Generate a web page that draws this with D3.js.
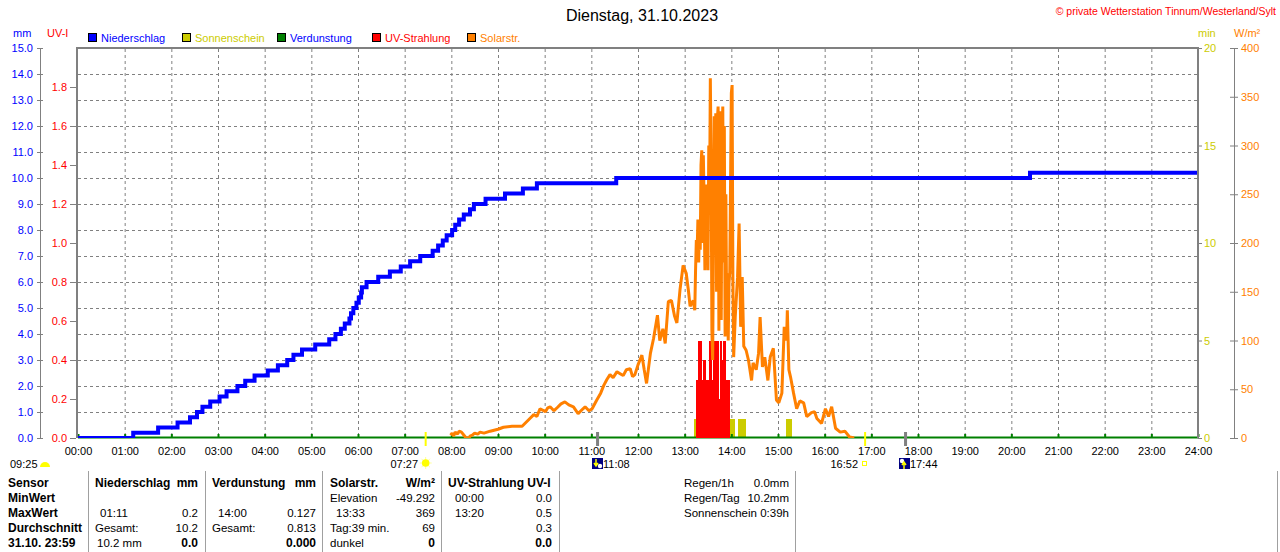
<!DOCTYPE html>
<html>
<head>
<meta charset="utf-8">
<script src="https://cdn.jsdelivr.net/npm/d3@7"></script>
<style>
  body { margin: 0; background: #fff; }
  svg text { font-family: "Liberation Sans", Arial, sans-serif; }
</style>
</head>
<body>
<div id="chart"></div>
<script>
// Niederschlag, cumulated (mm), step changes
const precipTimes = ['00:00','01:11','01:43','02:08','02:24','02:33','02:40','02:50','03:02','03:11','03:25','03:35','03:47','04:04','04:17','04:29','04:37','04:48','05:05','05:23','05:31','05:38','05:43','05:49','05:51','05:54','05:58','06:01','06:04','06:05','06:11','06:26','06:41','06:55','07:07','07:20','07:36','07:43','07:49','07:54','08:01','08:05','08:10','08:16','08:24','08:29','08:44','09:09','09:32','09:50','11:32','20:24'];
const precipValues = [0,0.2,0.4,0.6,0.8,1.0,1.2,1.4,1.6,1.8,2.0,2.2,2.4,2.6,2.8,3.0,3.2,3.4,3.6,3.8,4.0,4.2,4.4,4.6,4.8,5.0,5.2,5.4,5.6,5.8,6.0,6.2,6.4,6.6,6.8,7.0,7.2,7.4,7.6,7.8,8.0,8.2,8.4,8.6,8.8,9.0,9.2,9.4,9.6,9.8,10.0,10.2];

// Solarstrahlung (W/m²)
const solarTimes = ['07:59','08:01','08:03','08:05','08:08','08:10','08:13','08:17','08:19','08:23','08:24','08:27','08:30','08:34','08:37','08:42','08:50','09:00','09:07','09:18','09:31','09:41','09:46','09:50','09:54','10:01','10:04','10:07','10:12','10:16','10:21','10:26','10:31','10:37','10:43','10:48','10:52','10:57','11:01','11:07','11:12','11:16','11:20','11:24','11:28','11:33','11:37','11:41','11:45','11:50','11:53','11:56','12:00','12:05','12:08','12:11','12:16','12:20','12:25','12:28','12:32','12:35','12:39','12:43','12:47','12:50','12:54','12:58','13:02','13:05','13:07','13:11','13:13','13:14','13:15','13:16','13:17','13:18','13:19','13:20','13:21','13:22','13:23','13:24','13:25','13:26','13:27','13:28','13:29','13:30','13:31','13:32','13:33','13:34','13:35','13:36','13:37','13:38','13:39','13:40','13:41','13:42','13:43','13:44','13:45','13:46','13:47','13:48','13:49','13:50','13:51','13:52','13:53','13:54','13:55','13:56','13:57','13:58','14:00','14:01','14:02','14:03','14:05','14:08','14:10','14:12','14:14','14:16','14:19','14:22','14:26','14:28','14:32','14:35','14:37','14:40','14:43','14:47','14:50','14:54','14:58','15:01','15:05','15:08','15:11','15:12','15:14','15:16','15:20','15:24','15:28','15:33','15:37','15:43','15:47','15:50','15:56','16:01','16:05','16:09','16:14','16:20','16:26','16:32','16:38','16:42'];
const solarValues = [3,5,2,6,4,7,6,2,0,0,2,3,5,4,6,5,7,9,11,12,12,20,24,22,30,27,31,32,28,31,35,37,34,32,25,29,32,28,30,39,46,54,60,65,62,68,66,64,70,71,63,65,75,85,70,56,87,102,126,100,112,97,140,141,125,118,152,177,169,150,135,141,131,172,203,190,224,180,215,193,280,295,200,290,244,172,260,180,250,172,300,240,369,285,110,80,200,330,258,333,150,326,340,110,319,335,121,300,340,180,320,104,250,121,169,100,159,170,354,362,165,83,124,165,220,114,165,94,90,80,59,77,70,87,124,73,83,59,83,92,39,36,46,114,100,131,70,63,46,30,38,36,22,26,27,20,15,30,22,32,10,6,7,1,0];

// UV-Strahlung (UV-I), 2-minute samples
const uvTimes = ['13:15','13:17','13:19','13:21','13:23','13:25','13:27','13:29','13:31','13:33','13:35','13:37','13:39','13:41','13:43','13:45','13:47','13:49','13:51','13:53','13:55'];
const uvValues = [0.3,0.5,0.5,0.3,0.4,0.4,0.3,0.3,0.5,0.5,0.3,0.5,0.5,0.5,0.2,0.5,0.4,0.5,0.5,0.3,0.3];

// Sonnenschein (min per minute)
const sunStart = ['13:12','13:35','13:43','13:50','13:58','14:08','15:10'];
const sunEnd   = ['13:15','13:37','13:47','13:53','14:05','14:19','15:18'];

const hourLabels = ['00:00','01:00','02:00','03:00','04:00','05:00','06:00','07:00','08:00','09:00','10:00','11:00','12:00','13:00','14:00','15:00','16:00','17:00','18:00','19:00','20:00','21:00','22:00','23:00','24:00'];
const mmTicks = [0,1,2,3,4,5,6,7,8,9,10,11,12,13,14,15];
const uvTicks = [0,0.2,0.4,0.6,0.8,1.0,1.2,1.4,1.6,1.8];
const minTicks = [0,5,10,15,20];
const wTicks = [0,50,100,150,200,250,300,350,400];

const legendNames = ['Niederschlag','Sonnenschein','Verdunstung','UV-Strahlung','Solarstr.'];
const legendColors = ['#0000ff','#cccc00','#008000','#ff0000','#ff8000'];
const legendTextColors = ['#0000ff','#cccc00','#0000ff','#ff0000','#ff8000'];

const toH = s => { const p = s.split(':'); return +p[0] + p[1] / 60; };

const W = 1280, H = 552;
const svg = d3.select('#chart').append('svg').attr('width', W).attr('height', H);

const x = d3.scaleLinear().domain([0, 24]).range([78, 1198]);
const yMm = d3.scaleLinear().domain([0, 15]).range([438, 48]);
const yUv = d3.scaleLinear().domain([0, 2]).range([438, 48]);
const yMin = d3.scaleLinear().domain([0, 20]).range([438, 48]);
const yW = d3.scaleLinear().domain([0, 400]).range([438, 48]);

svg.append('clipPath').attr('id', 'plotclip').append('rect')
  .attr('x', 78).attr('y', 40).attr('width', 1120).attr('height', 398);

// grid
svg.append('g').selectAll('line').data(d3.range(1, 24)).join('line')
  .attr('x1', d => x(d) + 0.5).attr('x2', d => x(d) + 0.5).attr('y1', 49).attr('y2', 437)
  .attr('stroke', '#808080').attr('stroke-dasharray', '3,3');
svg.append('g').selectAll('line').data(mmTicks.slice(1, -1)).join('line')
  .attr('x1', 78).attr('x2', 1197).attr('y1', d => Math.round(yMm(d)) + 0.5).attr('y2', d => Math.round(yMm(d)) + 0.5)
  .attr('stroke', '#808080').attr('stroke-dasharray', '3,3');

// sunshine
svg.append('g').attr('shape-rendering', 'crispEdges').selectAll('rect').data(sunStart).join('rect')
  .attr('x', (d, i) => x(toH(d)))
  .attr('width', (d, i) => x(toH(sunEnd[i])) - x(toH(d)))
  .attr('y', yMin(1)).attr('height', yMin(0) - yMin(1))
  .attr('fill', '#cccc00');

// evaporation baseline
svg.append('line').attr('x1', 78).attr('x2', 1198).attr('y1', 437.5).attr('y2', 437.5)
  .attr('stroke', '#008000').attr('stroke-width', 2);
svg.append('g').selectAll('rect').data(d3.range(0, 25)).join('rect')
  .attr('x', d => x(d) - 0.5).attr('y', 434).attr('width', 2).attr('height', 3).attr('fill', '#008000');

// UV
svg.append('g').attr('shape-rendering', 'crispEdges').selectAll('rect').data(uvTimes).join('rect')
  .attr('x', d => x(toH(d)))
  .attr('width', d => x(toH(d) + 2 / 60) - x(toH(d)) + 0.6)
  .attr('y', (d, i) => yUv(uvValues[i]))
  .attr('height', (d, i) => yUv(0) - yUv(uvValues[i]))
  .attr('fill', '#ff0000');

// solar
const solarLine = d3.line().x(d => x(toH(d[0]))).y(d => yW(d[1]));
svg.append('path').datum(solarTimes.map((t, i) => [t, solarValues[i]]))
  .attr('clip-path', 'url(#plotclip)')
  .attr('d', solarLine).attr('fill', 'none').attr('stroke', '#ff8000')
  .attr('stroke-width', 3).attr('stroke-linejoin', 'bevel');

// precipitation
const precipData = precipTimes.map((t, i) => [toH(t), precipValues[i]]);
precipData.push([24, precipValues[precipValues.length - 1]]);
svg.append('path').datum(precipData)
  .attr('clip-path', 'url(#plotclip)')
  .attr('d', d3.line().x(d => x(d[0])).y(d => yMm(d[1])).curve(d3.curveStepAfter))
  .attr('fill', 'none').attr('stroke', '#0000ff').attr('stroke-width', 4);

// frame
svg.append('path').attr('d', 'M77,438V48H1198V438').attr('fill', 'none')
  .attr('stroke', '#808080').attr('stroke-width', 2);

// axes
function styleAxis(g, color) {
  g.selectAll('.tick line').attr('stroke', '#808080');
  g.selectAll('.tick text').attr('fill', color).attr('font-size', 11)
    .attr('font-family', '"Liberation Sans", Arial, sans-serif');
  g.select('.domain').attr('stroke', '#808080');
}

const gMm = svg.append('g').attr('transform', 'translate(40,0)')
  .call(d3.axisLeft(yMm).tickValues(mmTicks).tickFormat(d3.format('.1f')).tickSizeInner(3).tickSizeOuter(0).tickPadding(4));
styleAxis(gMm, '#0000ff');
gMm.selectAll('.tick line').attr('x1', 3);

const gUv = svg.append('g').attr('transform', 'translate(76,0)')
  .call(d3.axisLeft(yUv).tickValues(uvTicks).tickFormat(d3.format('.1f')).tickSize(6).tickPadding(3));
styleAxis(gUv, '#ff0000');
gUv.select('.domain').remove();

const gX = svg.append('g').attr('transform', 'translate(0,438)')
  .call(d3.axisBottom(x).tickValues(d3.range(0, 25)).tickFormat((d, i) => hourLabels[i]).tickSize(0).tickPadding(9));
styleAxis(gX, '#000');
gX.select('.domain').remove();

const gMin = svg.append('g').attr('transform', 'translate(1198,0)')
  .call(d3.axisRight(yMin).tickValues(minTicks).tickSize(4).tickPadding(2));
styleAxis(gMin, '#cccc00');
gMin.select('.domain').remove();

const gW = svg.append('g').attr('transform', 'translate(1234,0)')
  .call(d3.axisRight(yW).tickValues(wTicks).tickSizeInner(4).tickSizeOuter(0).tickPadding(3));
styleAxis(gW, '#ff8000');
gW.selectAll('.tick line').attr('x1', -4);

// axis units
const txt = (t, x0, y0, opts = {}) => svg.append('text').attr('x', x0).attr('y', y0)
  .attr('font-size', opts.size || 11).attr('fill', opts.color || '#000')
  .attr('font-weight', opts.bold ? 'bold' : 'normal')
  .attr('text-anchor', opts.anchor || 'start').text(t);

txt('mm', 13, 37, { color: '#0000ff' });
txt('UV-I', 47, 37, { color: '#ff0000' });
txt('min', 1198, 37, { color: '#cccc00' });
txt('W/m²', 1234, 37, { color: '#ff8000' });

// title and copyright
txt('Dienstag, 31.10.2023', 642, 21, { size: 16, anchor: 'middle' });
txt('© private Wetterstation Tinnum/Westerland/Sylt', 1276, 15, { color: '#ff0000', anchor: 'end', size: 10.5 });

// legend
const legendX = [88, 182, 277, 372, 467];
const lg = svg.append('g').selectAll('g').data(legendNames).join('g')
  .attr('transform', (d, i) => `translate(${legendX[i]},33)`);
lg.append('rect').attr('x', 0.5).attr('y', 0.5).attr('width', 8).attr('height', 8)
  .attr('fill', (d, i) => legendColors[i]).attr('stroke', '#000');
lg.append('text').attr('x', 13).attr('y', 8.5).attr('font-size', 11)
  .attr('fill', (d, i) => legendTextColors[i]).text(d => d);

// sunrise / sunset / moon markers
const sunrise = '07:27', sunset = '16:52', moonset = '11:08', moonrise = '17:44';
[sunrise, sunset].forEach(t => svg.append('rect').attr('x', x(toH(t)) - 1).attr('y', 432)
  .attr('width', 2).attr('height', 14).attr('fill', '#ffff00'));
[moonset, moonrise].forEach(t => svg.append('rect').attr('x', x(toH(t)) - 1.5).attr('y', 432)
  .attr('width', 3).attr('height', 14).attr('fill', '#808080'));

txt('09:25', 10, 468);
svg.append('path').attr('d', 'M40,467 A5,5 0 0 1 50,467 Z').attr('fill', '#ffff00');

txt(sunrise, 418, 468, { anchor: 'end' });
const sunG = svg.append('g').attr('transform', `translate(${x(toH(sunrise))},463)`);
sunG.selectAll('line').data(d3.range(8)).join('line')
  .attr('x1', 0).attr('y1', 0)
  .attr('x2', d => 6 * Math.cos(d * Math.PI / 4)).attr('y2', d => 6 * Math.sin(d * Math.PI / 4))
  .attr('stroke', '#ffff99').attr('stroke-width', 1);
sunG.append('circle').attr('r', 3.8).attr('fill', '#ffff00');

function moonIcon(cx, up) {
  const g = svg.append('g').attr('transform', `translate(${cx},458)`);
  g.append('rect').attr('width', 11).attr('height', 11).attr('fill', '#000080');
  g.append('circle').attr('cx', up ? 3 : 8).attr('cy', up ? 3 : 8).attr('r', 2.2).attr('fill', '#ffffff');
  g.append('path').attr('d', up ? 'M5,11V5 M3,7L5,4L7,7' : 'M4,1V7 M2,5L4,8L6,5')
    .attr('stroke', '#ffff00').attr('stroke-width', 1.5).attr('fill', 'none');
}
moonIcon(592, false);
txt(moonset, 603, 468);
txt(sunset, 858, 468, { anchor: 'end' });
svg.append('rect').attr('x', 862.5).attr('y', 461.5).attr('width', 4).attr('height', 4)
  .attr('fill', 'none').attr('stroke', '#ffff00');
moonIcon(899, true);
txt(moonrise, 910, 468);

// table
const sepX = [88, 205, 322, 441, 559, 795, 1277];
svg.append('g').selectAll('line').data(sepX).join('line')
  .attr('x1', d => d + 0.5).attr('x2', d => d + 0.5).attr('y1', 471).attr('y2', 552)
  .attr('stroke', '#a0a0a0');

const rowY = [487, 502, 517, 532, 547];
const cells = [
  // [row, text, x, anchor, bold]
  [0, 'Sensor', 8, 'start', true], [1, 'MinWert', 8, 'start', true], [2, 'MaxWert', 8, 'start', true],
  [3, 'Durchschnitt', 8, 'start', true], [4, '31.10. 23:59', 8, 'start', true],
  [0, 'Niederschlag', 95, 'start', true], [0, 'mm', 198, 'end', true],
  [2, '01:11', 100, 'start', false], [2, '0.2', 198, 'end', false],
  [3, 'Gesamt:', 95, 'start', false], [3, '10.2', 198, 'end', false],
  [4, '10.2 mm', 97, 'start', false], [4, '0.0', 198, 'end', true],
  [0, 'Verdunstung', 212, 'start', true], [0, 'mm', 316, 'end', true],
  [2, '14:00', 218, 'start', false], [2, '0.127', 316, 'end', false],
  [3, 'Gesamt:', 212, 'start', false], [3, '0.813', 316, 'end', false],
  [4, '0.000', 316, 'end', true],
  [0, 'Solarstr.', 330, 'start', true], [0, 'W/m²', 435, 'end', true],
  [1, 'Elevation', 330, 'start', false], [1, '-49.292', 435, 'end', false],
  [2, '13:33', 336, 'start', false], [2, '369', 435, 'end', false],
  [3, 'Tag:39 min.', 330, 'start', false], [3, '69', 435, 'end', false],
  [4, 'dunkel', 330, 'start', false], [4, '0', 435, 'end', true],
  [0, 'UV-Strahlung UV-I', 448, 'start', true],
  [1, '00:00', 455, 'start', false], [1, '0.0', 552, 'end', false],
  [2, '13:20', 455, 'start', false], [2, '0.5', 552, 'end', false],
  [3, '0.3', 552, 'end', false], [4, '0.0', 552, 'end', true],
  [0, 'Regen/1h', 684, 'start', false], [0, '0.0mm', 789, 'end', false],
  [1, 'Regen/Tag', 684, 'start', false], [1, '10.2mm', 789, 'end', false],
  [2, 'Sonnenschein', 684, 'start', false], [2, '0:39h', 789, 'end', false]
];
svg.append('g').selectAll('text').data(cells).join('text')
  .attr('x', d => d[2]).attr('y', d => rowY[d[0]])
  .attr('text-anchor', d => d[3])
  .attr('font-weight', d => d[4] ? 'bold' : 'normal')
  .attr('font-size', d => d[4] ? 12 : 11.5)
  .text(d => d[1]);
</script>
</body>
</html>
